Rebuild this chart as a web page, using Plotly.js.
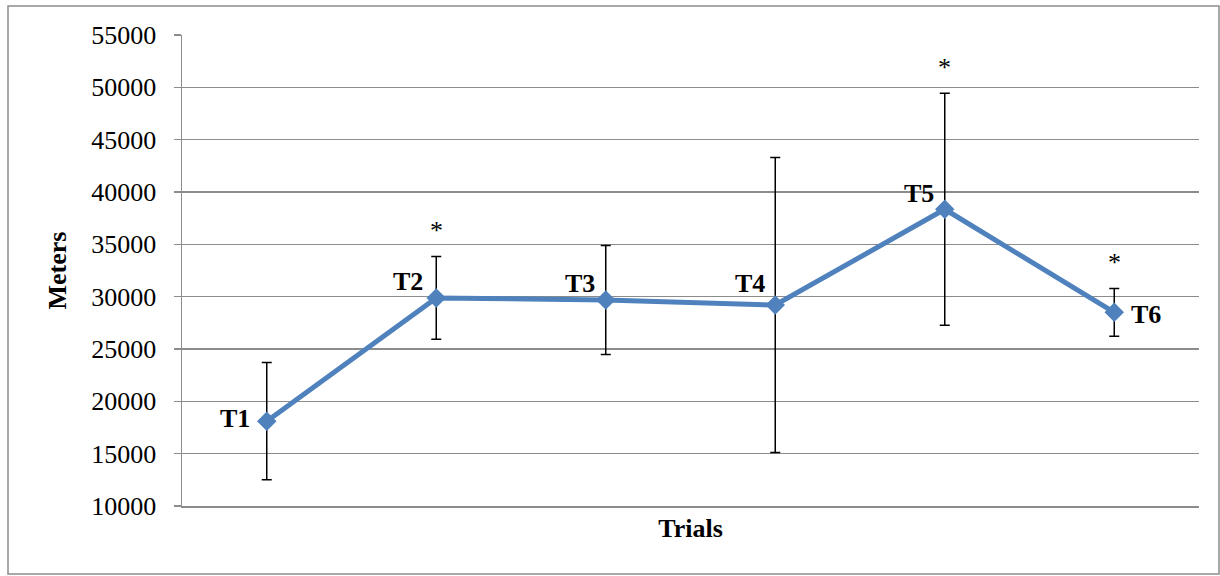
<!DOCTYPE html>
<html>
<head>
<meta charset="utf-8">
<script src="https://cdn.plot.ly/plotly-3.0.1.min.js"></script>
<style>
html,body{margin:0;padding:0;background:#fff;}
#chart{width:1220px;height:576px;}
</style>
</head>
<body>
<div id="chart"></div>
<script>
// ---- data ----
const trials = ["T1", "T2", "T3", "T4", "T5", "T6"];
const meters = [18100, 29880, 29680, 29200, 38350, 28500];
const errors = [5600, 3950, 5200, 14100, 11080, 2280];
const significant = [false, true, false, false, true, true];
const yTickVals = [10000, 15000, 20000, 25000, 30000, 35000, 40000, 45000, 50000, 55000];

// ---- styling (label placement relative to each point) ----
const labelStyle = [
  {xanchor: "right", xshift: -15, yshift: 3},
  {xanchor: "right", xshift: -11, yshift: 16},
  {xanchor: "right", xshift: -9, yshift: 17},
  {xanchor: "right", xshift: -8, yshift: 22},
  {xanchor: "right", xshift: -9, yshift: 16},
  {xanchor: "left",  xshift: 15, yshift: -2}
];

const serif = "Liberation Serif, Times New Roman, serif";
const grid = "#8c8c8c";

const trace = {
  type: "scatter",
  mode: "lines+markers",
  x: trials,
  y: meters,
  line: {color: "#4F81BD", width: 5},
  marker: {symbol: "diamond", size: 15, color: "#4F81BD"},
  error_y: {type: "data", array: errors, visible: true, color: "#000", thickness: 1.5, width: 5},
  hoverinfo: "skip"
};

const annotations = [];
trials.forEach((t, i) => {
  const s = labelStyle[i];
  annotations.push({
    x: t, y: meters[i], xref: "x", yref: "y", text: t, showarrow: false,
    xanchor: s.xanchor, yanchor: "middle", xshift: s.xshift, yshift: s.yshift,
    font: {family: serif, size: 26, color: "#000", weight: "bold"}
  });
  if (significant[i]) {
    annotations.push({
      x: t, y: meters[i] + errors[i], xref: "x", yref: "y", text: "*", showarrow: false,
      xanchor: "center", yanchor: "middle", yshift: 26,
      font: {family: serif, size: 26, color: "#000"}
    });
  }
});

const layout = {
  width: 1220, height: 576,
  margin: {l: 182, r: 21, t: 35, b: 70},
  paper_bgcolor: "#fff", plot_bgcolor: "#fff",
  showlegend: false,
  font: {family: serif, size: 26, color: "#000"},
  xaxis: {
    type: "category", range: [-0.5, 5.5],
    showticklabels: false, ticks: "", showgrid: false, zeroline: false,
    showline: true, linecolor: grid, linewidth: 1.5,
    title: {text: "<b>Trials</b>", font: {family: serif, size: 26, color: "#000"}, standoff: 12}
  },
  yaxis: {
    range: [10000, 55000], tickvals: yTickVals, tickformat: "d",
    showgrid: true, gridcolor: grid, gridwidth: 1.5, zeroline: false,
    showline: true, linecolor: grid, linewidth: 1.5,
    ticks: "outside", ticklen: 7, tickcolor: grid, tickwidth: 1.5,
    ticklabelstandoff: 12,
    tickfont: {family: serif, size: 26, color: "#000"},
    title: {text: "<b>Meters</b>", font: {family: serif, size: 26, color: "#000"}, standoff: 17}
  },
  annotations: annotations,
  shapes: [{
    type: "rect", xref: "paper", yref: "paper",
    x0: (8 - 182) / 1017, x1: (1219 - 182) / 1017,
    y0: (506 - 574) / 471, y1: (506 - 6) / 471,
    line: {color: grid, width: 1.5}, fillcolor: "rgba(0,0,0,0)", layer: "below"
  }]
};

Plotly.newPlot("chart", [trace], layout, {displayModeBar: false, staticPlot: true});
</script>
</body>
</html>
